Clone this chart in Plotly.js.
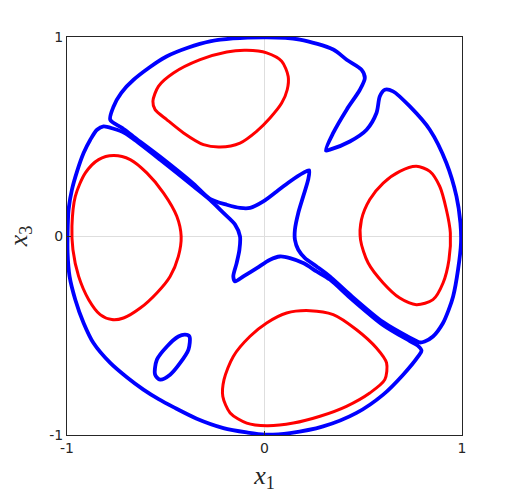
<!DOCTYPE html>
<html>
<head>
<meta charset="utf-8">
<script src="https://cdn.plot.ly/plotly-3.0.1.min.js"></script>
<style>
  html, body { margin: 0; padding: 0; background: #fff; }
  #chart { width: 510px; height: 493px; }
</style>
</head>
<body>
<div id="chart"></div>
<script>
// Blue orbit, first closed loop (band, star upper/right side, right arc, fold, top arc)
const blueAx = [-0.781, -0.720, -0.663, -0.528, -0.360, -0.276, -0.191, -0.124, -0.073, -0.006, 0.062, 0.129, 0.196, 0.226,
  0.221, 0.196, 0.171, 0.154, 0.154, 0.171, 0.205, 0.264, 0.331, 0.432, 0.601, 0.736, 0.786, 0.811, 0.853, 0.904, 0.933, 0.955,
  0.980, 0.995, 0.992, 0.972, 0.921, 0.837, 0.736, 0.651, 0.609, 0.584, 0.567, 0.517, 0.432, 0.331, 0.311, 0.348, 0.416,
  0.483, 0.508, 0.491, 0.416, 0.348, 0.179, 0.000, -0.276, -0.494, -0.663, -0.725, -0.764, -0.781];
const blueAy = [0.584, 0.542, 0.499, 0.398, 0.263, 0.187, 0.157, 0.141, 0.141, 0.174, 0.224, 0.274, 0.317, 0.330,
  0.283, 0.199, 0.116, 0.032, -0.019, -0.069, -0.111, -0.153, -0.203, -0.294, -0.433, -0.511, -0.535, -0.530, -0.505, -0.437, -0.370, -0.304,
  -0.169, -0.034, 0.065, 0.199, 0.367, 0.534, 0.651, 0.727, 0.735, 0.702, 0.618, 0.534, 0.475, 0.434, 0.430, 0.518, 0.635,
  0.735, 0.794, 0.836, 0.886, 0.937, 0.987, 0.998, 0.978, 0.903, 0.785, 0.719, 0.651, 0.584];

// Blue orbit, second closed loop (band, star lower/left side, bottom arc, left arc)
const blueBx = [-0.815, -0.764, -0.710, -0.655, -0.528, -0.360, -0.276, -0.208, -0.149, -0.124, -0.127, -0.141, -0.158, -0.149,
  -0.107, -0.039, 0.028, 0.078, 0.129, 0.196, 0.264, 0.331, 0.432, 0.601, 0.736, 0.776, 0.795, 0.778, 0.702, 0.601, 0.466,
  0.297, 0.129, 0.003, -0.090, -0.208, -0.343, -0.461, -0.536, -0.613, -0.697, -0.781, -0.866, -0.916, -0.958, -0.987,
  -0.997, -0.997, -0.992, -0.975, -0.949, -0.916, -0.882, -0.848, -0.815];
const blueBy = [0.551, 0.539, 0.519, 0.481, 0.383, 0.250, 0.182, 0.116, 0.057, -0.002, -0.069, -0.136, -0.203, -0.228,
  -0.203, -0.161, -0.119, -0.103, -0.111, -0.136, -0.178, -0.219, -0.309, -0.448, -0.528, -0.551, -0.576, -0.605, -0.697, -0.797, -0.889,
  -0.957, -0.990, -0.998, -0.987, -0.965, -0.918, -0.860, -0.820, -0.772, -0.710, -0.638, -0.538, -0.437, -0.320, -0.203,
  -0.085, 0.015, 0.132, 0.233, 0.325, 0.417, 0.484, 0.534, 0.551];

// Small blue island, lower left
const blueCx = [-0.402, -0.380, -0.385, -0.427, -0.478, -0.528, -0.554, -0.545, -0.494, -0.436, -0.402];
const blueCy = [-0.496, -0.505, -0.571, -0.638, -0.697, -0.722, -0.697, -0.622, -0.555, -0.505, -0.496];

// Red islands
const redTopX = [-0.565, -0.537, -0.461, -0.326, -0.191, -0.090, 0.011, 0.087, 0.120, 0.115, 0.087, 0.028, -0.040, -0.124,
  -0.225, -0.309, -0.410, -0.495, -0.554, -0.565];
const redTopY = [0.677, 0.752, 0.819, 0.886, 0.925, 0.933, 0.920, 0.878, 0.802, 0.735, 0.668, 0.593, 0.526, 0.467,
  0.447, 0.459, 0.518, 0.585, 0.635, 0.677];

const redLeftX = [-0.764, -0.680, -0.596, -0.511, -0.444, -0.422, -0.436, -0.478, -0.545, -0.629, -0.714, -0.773, -0.832,
  -0.890, -0.941, -0.970, -0.975, -0.958, -0.907, -0.840, -0.764];
const redLeftY = [0.404, 0.384, 0.317, 0.216, 0.099, -0.002, -0.102, -0.203, -0.286, -0.362, -0.412, -0.420, -0.395,
  -0.320, -0.203, -0.069, 0.049, 0.199, 0.317, 0.384, 0.404];

const redRightX = [0.769, 0.837, 0.887, 0.921, 0.941, 0.934, 0.904, 0.853, 0.769, 0.685, 0.601, 0.525, 0.486, 0.491,
  0.533, 0.601, 0.685, 0.769];
const redRightY = [0.350, 0.325, 0.250, 0.132, 0.015, -0.119, -0.236, -0.320, -0.345, -0.312, -0.236, -0.136, -0.018, 0.082,
  0.183, 0.266, 0.325, 0.350];

const redBottomX = [0.230, 0.348, 0.466, 0.567, 0.618, 0.609, 0.533, 0.415, 0.281, 0.146, 0.011, -0.090, -0.174, -0.211,
  -0.205, -0.158, -0.073, 0.011, 0.112, 0.230];
const redBottomY = [-0.375, -0.395, -0.471, -0.563, -0.638, -0.722, -0.789, -0.856, -0.906, -0.940, -0.953, -0.940, -0.889, -0.806,
  -0.722, -0.605, -0.504, -0.437, -0.387, -0.375];

const tickVals = [-1, 0, 1];
const tickText = ['-1', '0', '1'];

function orbit(x, y, color, width) {
  return {
    x: x, y: y, type: 'scatter', mode: 'lines',
    line: { color: color, width: width, shape: 'spline', smoothing: 0.8 },
    hoverinfo: 'skip', showlegend: false
  };
}

const data = [
  orbit(blueAx, blueAy, '#0000ff', 3.8),
  orbit(blueBx, blueBy, '#0000ff', 3.8),
  orbit(blueCx, blueCy, '#0000ff', 3.8),
  orbit(redTopX, redTopY, '#ff0000', 3),
  orbit(redLeftX, redLeftY, '#ff0000', 3),
  orbit(redRightX, redRightY, '#ff0000', 3),
  orbit(redBottomX, redBottomY, '#ff0000', 3)
];

const axisBase = {
  range: [-1, 1],
  tickmode: 'array',
  tickvals: tickVals,
  ticktext: tickText,
  showgrid: true,
  gridcolor: '#dedede',
  gridwidth: 1,
  zeroline: false,
  showline: true,
  mirror: true,
  linecolor: '#262626',
  linewidth: 1,
  ticks: 'inside',
  ticklen: 4,
  tickcolor: '#262626',
  tickfont: { family: 'DejaVu Sans, sans-serif', size: 14, color: '#262626' }
};

const titleFont = { family: 'Liberation Serif, serif', size: 26, color: '#262626' };

const layout = {
  width: 510,
  height: 493,
  margin: { l: 67, r: 48, t: 37, b: 58 },
  paper_bgcolor: '#ffffff',
  plot_bgcolor: '#ffffff',
  xaxis: Object.assign({}, axisBase, {
    title: { text: '<i>x</i><sub>1</sub>', font: titleFont, standoff: 12 }
  }),
  yaxis: Object.assign({}, axisBase, {
    title: { text: '<i>x</i><sub>3</sub>', font: titleFont, standoff: 14 }
  })
};

Plotly.newPlot('chart', data, layout, { staticPlot: true, displayModeBar: false });
</script>
</body>
</html>
